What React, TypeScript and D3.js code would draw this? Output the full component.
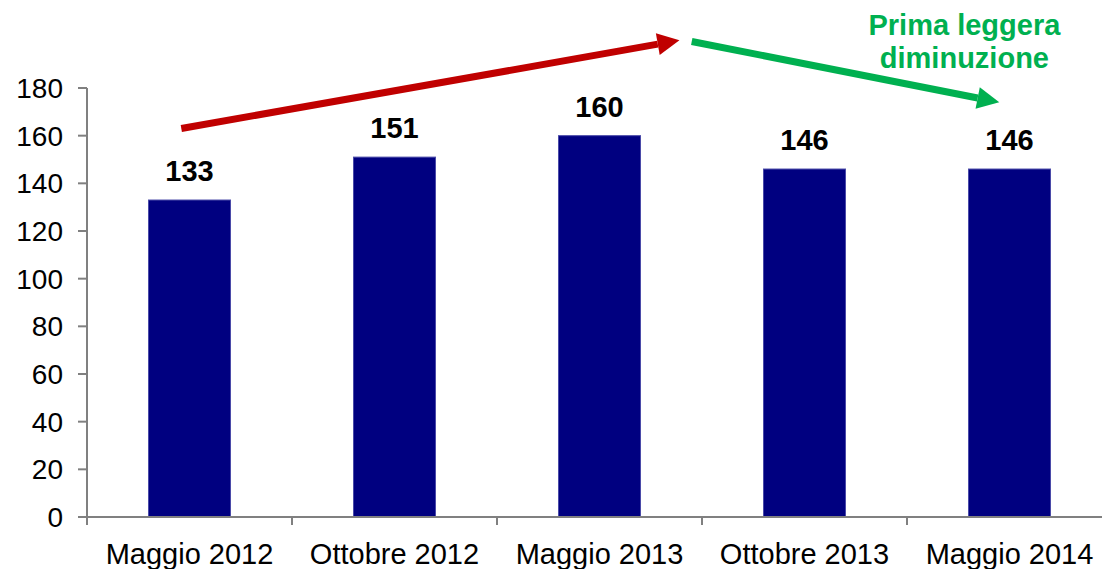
import React from 'react';
import * as d3 from 'd3';

const categories = ['Maggio 2012', 'Ottobre 2012', 'Maggio 2013', 'Ottobre 2013', 'Maggio 2014'];
const values = [133, 151, 160, 146, 146];
const yTicks = [0, 20, 40, 60, 80, 100, 120, 140, 160, 180];

// annotation arrows in (category index, value) space
const arrows = [
  { from: [-0.04, 163], to: [2.39, 200], color: '#c00000' },
  { from: [2.45, 199.5], to: [3.95, 174], color: '#00b050' },
];
const noteLines = ['Prima leggera', 'diminuzione'];

const W = 1102;
const H = 569;
const FONT = "'Liberation Sans', Arial, sans-serif";

const App = () => {
  const x = d3.scaleBand().domain(categories).range([87, 1112]).paddingInner(0.6).paddingOuter(0.3);
  const y = d3.scaleLinear().domain([0, 180]).range([517, 88]);
  const band = x.step();
  const xi = d3.scaleLinear().domain([0, 1]).range([87 + band / 2, 87 + band * 1.5]);

  const arrowShapes = arrows.map(a => {
    const x1 = xi(a.from[0]), y1 = y(a.from[1]);
    const x2 = xi(a.to[0]), y2 = y(a.to[1]);
    const ang = Math.atan2(y2 - y1, x2 - x1);
    const len = 22, half = 11;
    const bx = x2 - len * Math.cos(ang), by = y2 - len * Math.sin(ang);
    const px = -Math.sin(ang) * half, py = Math.cos(ang) * half;
    return { x1, y1, bx, by, x2, y2, head: `M${x2},${y2}L${bx + px},${by + py}L${bx - px},${by - py}Z`, color: a.color };
  });

  return (
    <svg width={W} height={H} style={{ position: 'absolute', left: 0, top: 0, background: '#fff' }} fontFamily={FONT}>
      {/* y axis */}
      <line x1={87} x2={87} y1={y(180)} y2={y(0)} stroke="#808080" strokeWidth={2} />
      {yTicks.map(t => (
        <g key={t}>
          <line x1={78} x2={87} y1={y(t)} y2={y(t)} stroke="#808080" strokeWidth={2} />
          <text x={63} y={y(t)} dy="0.36em" textAnchor="end" fontSize={28}>{t}</text>
        </g>
      ))}

      {/* bars */}
      {categories.map((c, i) => (
        <g key={c}>
          <rect x={x(c)} y={y(values[i])} width={x.bandwidth()} height={y(0) - y(values[i])}
            fill="#000080" stroke="#4a4aa8" strokeWidth={1} />
          <text x={(x(c) as number) + x.bandwidth() / 2} y={y(values[i]) - 19} textAnchor="middle"
            fontSize={29} fontWeight="bold">{values[i]}</text>
        </g>
      ))}

      {/* x axis */}
      <line x1={87} x2={W} y1={y(0)} y2={y(0)} stroke="#808080" strokeWidth={2} />
      {categories.map((c, i) => (
        <line key={'t' + c} x1={87 + i * band} x2={87 + i * band} y1={y(0)} y2={y(0) + 8} stroke="#808080" strokeWidth={2} />
      ))}
      {categories.map(c => (
        <text key={'l' + c} x={(x(c) as number) + x.bandwidth() / 2} y={564} textAnchor="middle" fontSize={29}>{c}</text>
      ))}

      {/* arrows */}
      {arrowShapes.map((a, i) => (
        <g key={i}>
          <line x1={a.x1} y1={a.y1} x2={a.bx} y2={a.by} stroke={a.color} strokeWidth={7} />
          <path d={a.head} fill={a.color} />
        </g>
      ))}
      {noteLines.map((l, i) => (
        <text key={l} x={xi(3.78)} y={35 + i * 33} textAnchor="middle" fontSize={29} fontWeight="bold" fill="#00b050">{l}</text>
      ))}
    </svg>
  );
};

export default App;
